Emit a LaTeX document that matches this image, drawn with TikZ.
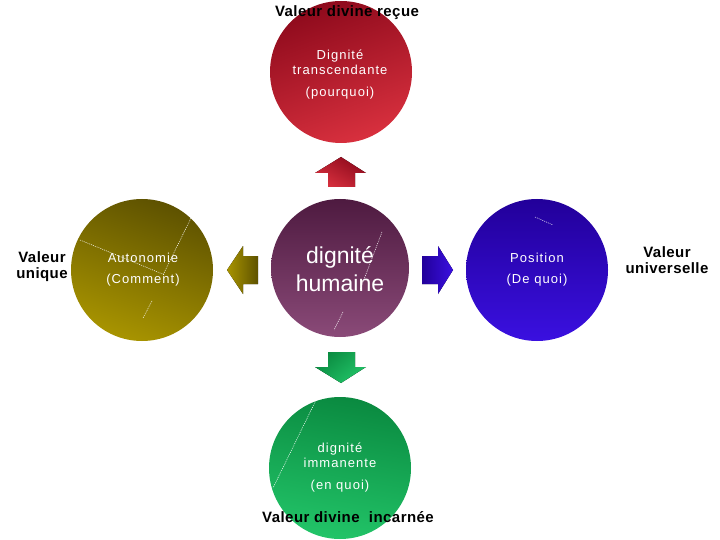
\documentclass[tikz,border=0pt]{standalone}
\usepackage{fontspec}
\setmainfont{Liberation Sans}
\newfontfamily\spacedfont[LetterSpace=8]{Liberation Sans}
\newfontfamily\labelfont[LetterSpace=3]{Liberation Sans Bold}
\usetikzlibrary{shapes.arrows}
\definecolor{redA}{HTML}{8E0A1C}
\definecolor{redB}{HTML}{D8303E}
\definecolor{purA}{HTML}{4E1A40}
\definecolor{purB}{HTML}{8A4A78}
\definecolor{oliA}{HTML}{5E5200}
\definecolor{oliB}{HTML}{A89400}
\definecolor{bluA}{HTML}{22009A}
\definecolor{bluB}{HTML}{3A10E0}
\definecolor{grnA}{HTML}{0A8A40}
\definecolor{grnB}{HTML}{22C468}
\tikzset{
  disc/.style={circle, minimum size=142pt, inner sep=0pt, shading=axis, shading angle=30},
  wtext/.style={text=white, font=\spacedfont\fontsize{13}{17}\selectfont, align=center},
  btext/.style={text=black, font=\labelfont\fontsize{15}{18}\selectfont, align=center},
  artifact/.style={white, line width=0.5pt, dash pattern=on 1pt off 1pt}
}
\begin{document}
\begin{tikzpicture}[x=1pt,y=-1pt]
\useasboundingbox (0,0) rectangle (720,540);
% circles
\node[disc, top color=redA, bottom color=redB, shading angle=20] (top) at (341,72) {};
\node[disc, top color=purA, bottom color=purB, minimum size=138pt] (mid) at (340,268) {};
\node[disc, top color=oliA, bottom color=oliB, shading angle=-20] (left) at (142,270) {};
\node[disc, top color=bluA, bottom color=bluB, shading angle=0] (right) at (537,270) {};
\node[disc, top color=grnA, bottom color=grnB, shading angle=-10] (bot) at (340,468) {};
% artifacts
\draw[artifact] (80,240) -- (165,275);
\draw[artifact] (191,218) -- (163,275);
\draw[artifact] (152,301) -- (143,318);
\draw[artifact] (382,232) -- (360,290);
\draw[artifact] (343,312) -- (334,330);
\draw[artifact] (535,217) -- (553,225);
\draw[artifact] (317,398) -- (273,488);
% arrows
\fill[top color=redA, bottom color=redB, shading=axis, shading angle=-30]
  (328,187) -- (328,173) -- (315,173) -- (341,157) -- (366,173) -- (355,173) -- (355,187) -- cycle;
\fill[top color=grnA, bottom color=grnB, shading=axis, shading angle=40]
  (328,352) -- (355,352) -- (355,367) -- (366,367) -- (341,383) -- (315,367) -- (328,367) -- cycle;
\fill[left color=bluA, right color=bluB, shading=axis]
  (422,256) -- (438,256) -- (438,246) -- (453,270) -- (438,294) -- (438,284) -- (422,284) -- cycle;
\fill[left color=oliB, right color=oliA, shading=axis]
  (258,256) -- (243,256) -- (243,246) -- (227,270) -- (243,294) -- (243,284) -- (258,284) -- cycle;
% texts in circles
\node[wtext] (toptxt) at (340,62) {Dignité\\[-2pt]transcendante};
\node[wtext] (toptxt2) at (340,93) {(pourquoi)};
\node[text=white, font=\fontsize{23}{28}\selectfont, align=center] (midtxt) at (340,269) {dignité\\humaine};
\node[wtext] (lefttxt) at (143,270) {Autonomie\\[4pt](Comment)};
\node[wtext] (righttxt) at (537,270) {Position\\[4pt](De quoi)};
\node[wtext] (bottxt) at (340,455) {dignité\\[-2pt]immanente};
\node[wtext] (bottxt2) at (340,486) {(en quoi)};
% outer labels
\node[btext] (lt) at (347,13) {Valeur divine reçue};
\node[btext] (lb) at (348,517) {Valeur divine\ \ incarnée};
\node[btext] (ll) at (42,267) {Valeur\\[-2pt]unique};
\node[btext] (lr) at (667,260) {Valeur\\[-2pt]universelle};
\end{tikzpicture}
\end{document}
